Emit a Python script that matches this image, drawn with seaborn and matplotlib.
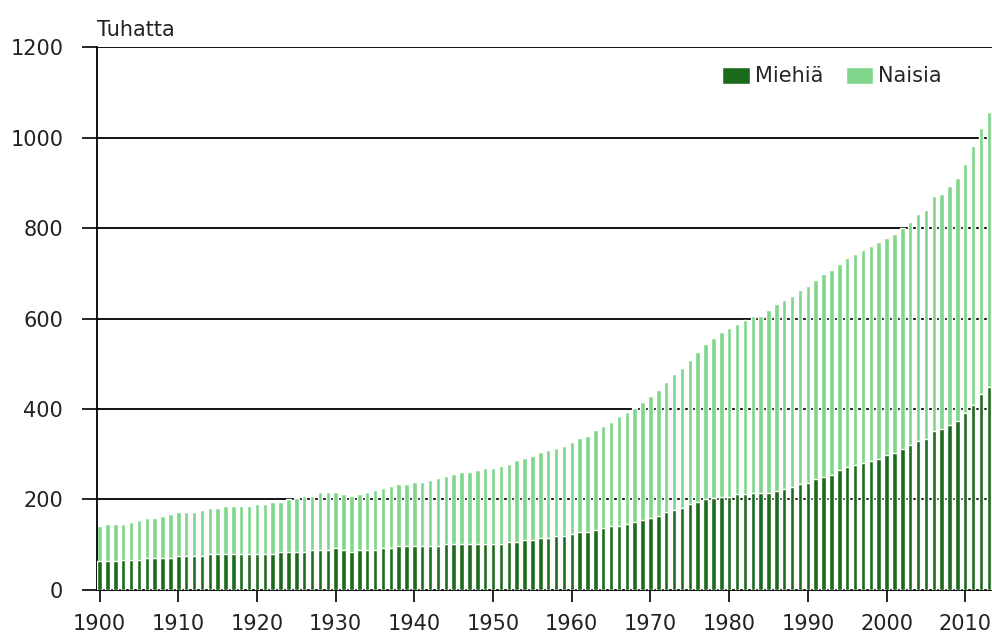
import numpy as np
import matplotlib
matplotlib.use('Agg')
import matplotlib.pyplot as plt
import seaborn as sns

# years 1900-2013
years = np.arange(1900, 2014)

# men (thousands)
men = [63, 63, 63, 66, 66, 66, 70, 70, 70, 70,
       74, 74, 74, 74, 79, 79, 79, 79, 79, 79,
       79, 79, 79, 83, 83, 83, 83, 88, 88, 88,
       92, 88, 83, 88, 88, 88, 92, 92, 97, 97,
       96, 96, 96, 96, 101, 101, 101, 101, 101, 101,
       101, 101, 105, 105, 110, 110, 114, 114, 119, 119,
       123, 128, 128, 132, 136, 141, 141, 145, 150, 154,
       158, 163, 172, 176, 181, 189, 194, 200, 203, 206,
       206, 211, 211, 215, 215, 215, 219, 224, 228, 233,
       237, 246, 250, 255, 264, 272, 277, 281, 286, 290,
       299, 303, 312, 321, 330, 334, 352, 356, 365, 374,
       392, 409, 432, 449]

# total population (men + women), thousands
total = [142, 145, 145, 145, 150, 154, 158, 158, 163, 167,
         172, 172, 172, 176, 180, 180, 185, 185, 185, 185,
         189, 189, 194, 194, 201, 203, 207, 207, 216, 216,
         216, 211, 207, 211, 216, 220, 225, 229, 234, 234,
         238, 238, 242, 247, 251, 256, 260, 260, 265, 269,
         269, 273, 278, 287, 291, 295, 304, 309, 313, 318,
         326, 335, 340, 353, 362, 371, 384, 393, 402, 415,
         429, 442, 460, 477, 491, 508, 526, 544, 557, 570,
         579, 588, 597, 606, 606, 619, 632, 641, 650, 663,
         672, 685, 698, 707, 720, 734, 743, 751, 760, 769,
         778, 787, 800, 813, 831, 840, 871, 875, 893, 910,
         941, 981, 1021, 1056]

labels = ['Miehiä', 'Naisia']
dark = '#1c6b1c'
light = '#80d68a'

sns.set_style('white')
plt.rcParams['font.family'] = ['DejaVu Sans']

fig = plt.figure(figsize=(9.92, 6.37), dpi=100)
ax = fig.add_axes([0.098, 0.074, 0.902, 0.852])

ax.grid(False)
for y in range(200, 1201, 200):
    ax.axhline(y, color='black', lw=1.3, zorder=0)

sns.barplot(x=years, y=total, native_scale=True, color=light, saturation=1,
            width=0.57, label=labels[1], ax=ax, zorder=2)
sns.barplot(x=years, y=men, native_scale=True, color=dark, saturation=1,
            width=0.57, label=labels[0], ax=ax, zorder=3)

ax.set_xlim(1899.7, 2013.4)
ax.set_ylim(0, 1200)
ax.set_xticks(np.arange(1900, 2011, 10))
ax.set_yticks(np.arange(0, 1201, 200))
ax.tick_params(axis='both', direction='out', width=1.2, color='black',
               labelsize=15, labelcolor='#222222', bottom=True, left=True)
ax.tick_params(axis='y', length=11, pad=13.5)
ax.tick_params(axis='x', length=8.6, pad=9)
ax.set_xlabel('')
ax.set_ylabel('')

for side in ['top', 'right']:
    ax.spines[side].set_visible(False)
for side in ['left', 'bottom']:
    ax.spines[side].set_color('black')
    ax.spines[side].set_linewidth(1.3)

ax.text(0.0, 1.014, 'Tuhatta', transform=ax.transAxes, fontsize=15,
        color='#222222', ha='left', va='bottom')

h, l = ax.get_legend_handles_labels()
order = [l.index(labels[0]), l.index(labels[1])]
ax.legend([h[i] for i in order], [l[i] for i in order], loc='upper right',
          bbox_to_anchor=(0.965, 0.999), ncol=2, frameon=False, fontsize=15,
          handlelength=1.3, handleheight=0.9, handletextpad=0.25,
          columnspacing=1.1)

fig.savefig('out.png', dpi=100)
